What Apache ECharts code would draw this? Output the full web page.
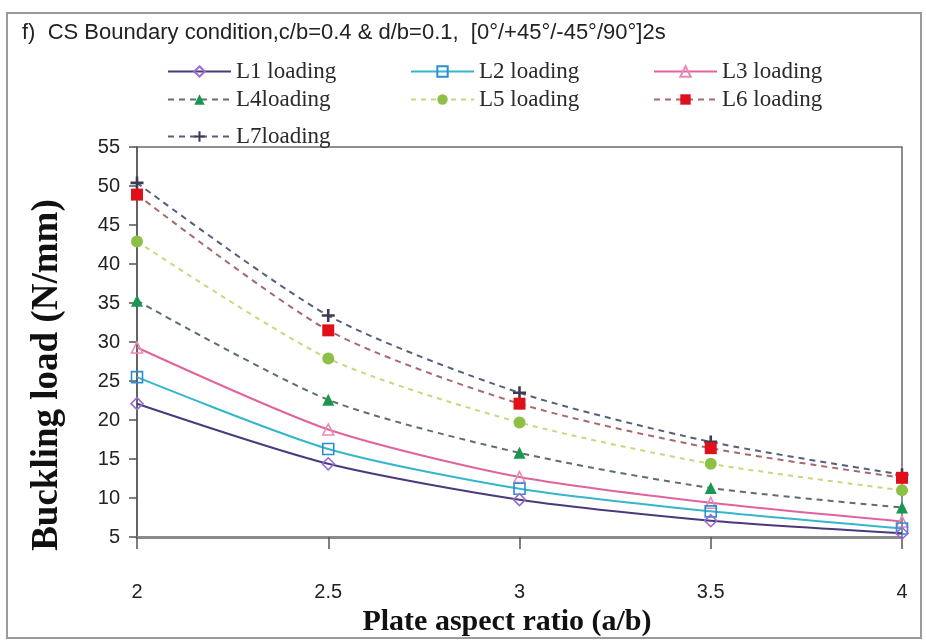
<!DOCTYPE html>
<html>
<head>
<meta charset="utf-8">
<script src="https://cdn.jsdelivr.net/npm/echarts@6/dist/echarts.min.js"></script>
<style>
html,body{margin:0;padding:0;background:#fff;}
#chart{width:926px;height:642px;}
</style>
</head>
<body>
<div id="chart"></div>
<script>
var aspectRatios = [2, 2.5, 3, 3.5, 4];
var seriesNames = ['L1 loading', 'L2 loading', 'L3 loading', 'L4loading', 'L5 loading', 'L6 loading', 'L7loading'];
var L1 = [22.1, 14.4, 9.8, 7.1, 5.5];
var L2 = [25.5, 16.3, 11.2, 8.3, 6.1];
var L3 = [29.3, 18.8, 12.7, 9.4, 7.0];
var L4 = [35.3, 22.6, 15.8, 11.3, 8.8];
var L5 = [42.9, 27.9, 19.7, 14.4, 11.0];
var L6 = [48.9, 31.5, 22.1, 16.4, 12.6];
var L7 = [50.4, 33.4, 23.5, 17.2, 13.0];
var yTicks = [5, 10, 15, 20, 25, 30, 35, 40, 45, 50, 55];
var xTicks = [2, 2.5, 3, 3.5, 4];

var allValues = [L1, L2, L3, L4, L5, L6, L7];

function pairs(vals) {
  return aspectRatios.map(function (x, i) { return [x, vals[i]]; });
}

var plusPath = 'path://M4,0 L6,0 L6,4 L10,4 L10,6 L6,6 L6,10 L4,10 L4,6 L0,6 L0,4 L4,4 Z';

var styles = [
  {line: '#4a3a7c', type: 'solid', symbol: 'diamond', size: 12, fill: 'rgba(255,255,255,0)', border: '#9a6ad0'},
  {line: '#35b6cc', type: 'solid', symbol: 'rect', size: 11, fill: 'rgba(255,255,255,0)', border: '#2a8ed0'},
  {line: '#e0649c', type: 'solid', symbol: 'triangle', size: 11, fill: 'rgba(255,255,255,0)', border: '#e88ab8'},
  {line: '#5e6e6e', type: [6, 5], symbol: 'triangle', size: 12, fill: '#1b9650', border: '#1b9650'},
  {line: '#cbd67e', type: [5, 5], symbol: 'circle', size: 12, fill: '#8cc046', border: '#8cc046'},
  {line: '#a86872', type: [6, 5], symbol: 'rect', size: 12, fill: '#e0101a', border: '#e0101a'},
  {line: '#56607c', type: [6, 5], symbol: plusPath, size: 13, fill: '#3c3c50', border: '#3c3c50'}
];

var series = allValues.map(function (vals, i) {
  var s = styles[i];
  return {
    name: seriesNames[i],
    type: 'line',
    smooth: 0.25,
    data: pairs(vals),
    symbol: s.symbol,
    symbolSize: s.size,
    showAllSymbol: true,
    lineStyle: {color: s.line, width: 2, type: s.type},
    itemStyle: {color: s.fill, borderColor: s.border, borderWidth: (i < 3 ? 1.6 : 0)},
    z: 10 - i
  };
});

var legendPos = [
  [167, 60], [410, 60], [653, 60],
  [167, 88], [410, 88], [653, 88],
  [167, 125]
];
var legends = seriesNames.map(function (n, i) {
  return {
    data: [n],
    left: legendPos[i][0],
    top: legendPos[i][1],
    itemWidth: 63,
    itemHeight: 13,
    itemGap: 0,
    padding: 0,
    textStyle: {fontFamily: '"Liberation Serif", "Times New Roman", serif', fontSize: 23, color: '#2a2a2a'}
  };
});

var chart = echarts.init(document.getElementById('chart'), null, {renderer: 'canvas'});
chart.setOption({
  backgroundColor: '#ffffff',
  animation: false,
  title: {
    text: 'f)  CS Boundary condition,c/b=0.4 & d/b=0.1,  [0°/+45°/-45°/90°]2s',
    left: 22,
    top: 22,
    padding: 0,
    textStyle: {fontFamily: '"Liberation Sans Narrow", "Liberation Sans", Arial, sans-serif', fontSize: 22, fontWeight: 'normal', color: '#222'}
  },
  graphic: [{
    type: 'rect',
    shape: {x: 7, y: 13, width: 914, height: 625},
    style: {fill: 'none', stroke: '#9a9a9a', lineWidth: 2},
    silent: true,
    z: -10
  }],
  legend: legends,
  grid: {left: 137, right: 24, top: 147, bottom: 100, show: true, borderColor: '#6a6a6a', borderWidth: 1.5, backgroundColor: 'transparent'},
  xAxis: {
    type: 'value',
    min: 2, max: 4, interval: 0.5,
    name: 'Plate aspect ratio (a/b)',
    nameLocation: 'middle',
    nameGap: 60,
    nameTextStyle: {fontFamily: '"Liberation Serif", "Times New Roman", serif', fontSize: 30, fontWeight: 'bold', color: '#111', padding: [0, 25, 0, 0]},
    axisLine: {show: true, lineStyle: {color: '#8a8a8a', width: 3}},
    axisTick: {show: true, inside: false, length: 12, lineStyle: {color: '#555', width: 1.5}},
    axisLabel: {margin: 45, fontFamily: '"Liberation Sans", Arial, sans-serif', fontSize: 20, color: '#222', formatter: function (v) { return xTicks.indexOf(v) >= 0 ? String(v) : ''; }},
    splitLine: {show: false}
  },
  yAxis: {
    type: 'value',
    min: 5, max: 55, interval: 5,
    name: 'Buckling load (N/mm)',
    nameLocation: 'middle',
    nameRotate: 90,
    nameGap: 71,
    nameTextStyle: {fontFamily: '"Liberation Serif", "Times New Roman", serif', fontSize: 37, fontWeight: 'bold', color: '#111', padding: [0, 66, 0, 0]},
    axisLine: {show: true, lineStyle: {color: '#555', width: 1.5}},
    axisTick: {show: true, inside: false, length: 8, lineStyle: {color: '#555', width: 1.5}},
    axisLabel: {margin: 17, fontFamily: '"Liberation Sans", Arial, sans-serif', fontSize: 20, color: '#222', formatter: function (v) { return yTicks.indexOf(v) >= 0 ? String(v) : ''; }},
    splitLine: {show: false}
  },
  series: series
});
</script>
</body>
</html>
